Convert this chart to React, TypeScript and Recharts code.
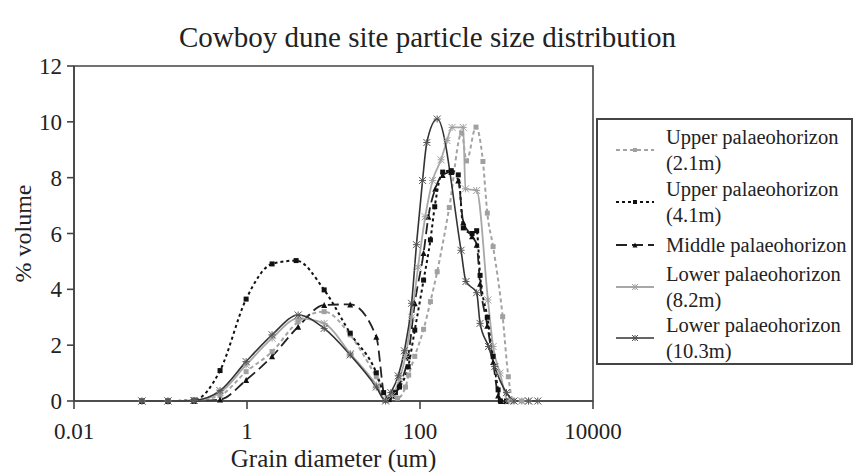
import React from 'react';
import { LineChart, Line, XAxis, YAxis, Legend, ReferenceArea } from 'recharts';

// ---------- data (grain diameter in um, % volume) ----------
const xTicks = [0.01, 1, 100, 10000];
const yTicks = [0, 2, 4, 6, 8, 10, 12];

const upper21m: [number, number][] = [
  [0.061, 0], [0.122, 0], [0.244, 0.02], [0.488, 0.2], [0.977, 1.05], [1.95, 1.77], [3.9, 2.84],
  [7.8, 3.2], [15.6, 2.37], [31.25, 0.87], [44, 0.1], [55, 0.1], [68, 0.5], [74, 0.93], [87, 1.6],
  [110, 2.57], [132, 3.56], [158, 4.63], [218, 6.93], [303, 9.6], [345, 8.6], [444, 9.81], [534, 8.58],
  [600, 6.73], [700, 5.53], [903, 3.02], [1050, 0.87], [1200, 0], [1500, 0],
];

const upper41m: [number, number][] = [
  [0.061, 0], [0.122, 0], [0.244, 0.03], [0.488, 1.09], [0.977, 3.65], [1.95, 4.91], [3.7, 5.03],
  [7.8, 3.98], [15.6, 2.43], [31.25, 1.01], [38, 0.3], [44, 0.05], [52, 0.3], [58, 0.5], [73, 1.23],
  [87, 2.54], [110, 4.33], [132, 5.77], [148, 6.96], [183, 8.2], [230, 8.25], [277, 8.1], [317, 6.2],
  [400, 6.0], [452, 6.1], [495, 4.5], [600, 3.0], [700, 1.6], [800, 0.4], [850, 0], [1000, 0],
];

const middle: [number, number][] = [
  [0.061, 0], [0.122, 0], [0.244, 0], [0.488, 0.05], [0.977, 0.75], [1.95, 1.6], [3.9, 2.66],
  [7.8, 3.44], [15.6, 3.46], [31.25, 2.3], [40, 0.05], [48, 0.2], [58, 0.6], [73, 1.6], [87, 3.5],
  [110, 5.3], [125, 6.6], [150, 7.6], [183, 8.1], [230, 8.2], [277, 7.9], [317, 6.4], [400, 5.9],
  [452, 5.6], [495, 4.2], [600, 2.7], [700, 1.4], [800, 0.2], [870, 0], [1000, 0],
];

const lower82m: [number, number][] = [
  [0.061, 0], [0.122, 0], [0.244, 0.02], [0.488, 0.3], [0.977, 1.29], [1.95, 2.25], [3.9, 2.96],
  [7.8, 2.78], [15.6, 1.7], [31.25, 0.57], [40, 0.05], [48, 0.2], [58, 0.8], [68, 1.6], [80, 3.0],
  [95, 4.8], [115, 6.6], [140, 7.9], [175, 8.64], [205, 9.33], [235, 9.8], [316, 9.8], [335, 7.6],
  [452, 7.54], [610, 3.62], [700, 1.95], [840, 1.0], [1050, 0], [1500, 0], [1800, 0],
];

const lower103m: [number, number][] = [
  [0.061, 0], [0.122, 0], [0.244, 0.02], [0.488, 0.37], [0.977, 1.41], [1.95, 2.37], [3.9, 3.08],
  [7.8, 2.6], [15.6, 1.65], [31.25, 0.5], [40, 0], [46, 0.3], [56, 0.9], [66, 1.8], [80, 3.5],
  [91, 5.6], [107, 7.9], [120, 9.26], [158, 10.1], [298, 5.4], [340, 4.28], [452, 3.88], [495, 2.78],
  [620, 1.95], [730, 1.23], [1000, 0.3], [1220, 0], [1800, 0], [2300, 0],
];

const legendLabels: string[][] = [
  ['Upper palaeohorizon', '(2.1m)'],
  ['Upper palaeohorizon', '(4.1m)'],
  ['Middle palaeohorizon'],
  ['Lower palaeohorizon', '(8.2m)'],
  ['Lower palaeohorizon', '(10.3m)'],
];

// ---------- styling ----------
type Marker = 'square' | 'triangle' | 'star';
interface SeriesCfg {
  key: string;
  data: [number, number][];
  stroke: string;
  dash?: string;
  width: number;
  marker: Marker;
  markerColor: string;
  markerSize: number;
}

const series: SeriesCfg[] = [
  { key: 'u21', data: upper21m, stroke: '#a3a3a3', dash: '4 3', width: 2, marker: 'square', markerColor: '#a0a0a0', markerSize: 5 },
  { key: 'u41', data: upper41m, stroke: '#111111', dash: '3 3', width: 2, marker: 'square', markerColor: '#111111', markerSize: 5 },
  { key: 'mid', data: middle, stroke: '#222222', dash: '11 5', width: 1.8, marker: 'triangle', markerColor: '#111111', markerSize: 6 },
  { key: 'l82', data: lower82m, stroke: '#a8a8a8', width: 1.8, marker: 'star', markerColor: '#a0a0a0', markerSize: 7 },
  { key: 'l103', data: lower103m, stroke: '#333333', width: 1.6, marker: 'star', markerColor: '#555555', markerSize: 7 },
];

const FONT = '"Liberation Serif", "Times New Roman", serif';
const AXIS = '#444444';

const toRows = (pairs: [number, number][]) => pairs.map(([d, v]) => ({ d, v }));

function MarkerShape({ cx, cy, shape, color, size }: { cx: number; cy: number; shape: Marker; color: string; size: number }) {
  const h = size / 2;
  if (shape === 'square') {
    return <rect x={cx - h} y={cy - h} width={size} height={size} fill={color} />;
  }
  if (shape === 'triangle') {
    return <polygon points={`${cx},${cy - h} ${cx + h},${cy + h} ${cx - h},${cy + h}`} fill={color} />;
  }
  return (
    <g stroke={color} strokeWidth={1}>
      <line x1={cx - h} y1={cy - h} x2={cx + h} y2={cy + h} />
      <line x1={cx - h} y1={cy + h} x2={cx + h} y2={cy - h} />
      <line x1={cx} y1={cy - h} x2={cx} y2={cy + h} />
      <line x1={cx - h} y1={cy} x2={cx + h} y2={cy} />
    </g>
  );
}

const makeDot = (s: SeriesCfg) => (props: any) => {
  const { cx, cy, index } = props;
  if (cx == null || cy == null) return <g key={`${s.key}-${index}`} />;
  return (
    <g key={`${s.key}-${index}`}>
      <MarkerShape cx={cx} cy={cy} shape={s.marker} color={s.markerColor} size={s.markerSize} />
    </g>
  );
};

const itemTops = [4, 56, 112, 141, 192];

function LegendBox() {
  return (
    <div
      style={{
        position: 'relative',
        width: 253,
        height: 243,
        border: '2px solid #444',
        background: '#fff',
        fontFamily: FONT,
        fontSize: 20.5,
        color: '#222',
      }}
    >
      {series.map((s, i) => {
        const lines = legendLabels[i];
        const cy = itemTops[i] + (lines.length * 26) / 2;
        return (
          <React.Fragment key={s.key}>
            <svg style={{ position: 'absolute', left: 18, top: cy - 6 }} width={40} height={12}>
              <line x1={0} y1={6} x2={38} y2={6} stroke={s.stroke} strokeWidth={s.width} strokeDasharray={s.dash} />
              <MarkerShape cx={19} cy={6} shape={s.marker} color={s.markerColor} size={s.markerSize - 1} />
            </svg>
            <div style={{ position: 'absolute', left: 68, top: itemTops[i], lineHeight: '26px', whiteSpace: 'nowrap' }}>
              {lines.map((t) => (
                <div key={t}>{t}</div>
              ))}
            </div>
          </React.Fragment>
        );
      })}
    </div>
  );
}

export default function App() {
  return (
    <div style={{ position: 'absolute', left: 0, top: 0, width: 855, height: 472, background: '#fff' }}>
      <div
        style={{
          position: 'absolute',
          left: 0,
          width: 855,
          top: 21,
          textAlign: 'center',
          fontFamily: FONT,
          fontSize: 29,
          color: '#222',
          whiteSpace: 'nowrap',
        }}
      >
        Cowboy dune site particle size distribution
      </div>
      <LineChart width={855} height={472} margin={{ top: 66, right: 262, bottom: 23, left: 0 }}>
        <XAxis
          dataKey="d"
          type="number"
          scale="log"
          domain={[0.01, 10000]}
          ticks={xTicks}
          allowDataOverflow
          height={48}
          tickSize={8}
          tickMargin={14}
          stroke={AXIS}
          strokeWidth={1.6}
          tick={{ fill: '#222', fontSize: 23, fontFamily: FONT }}
          label={{ value: 'Grain diameter (um)', position: 'bottom', offset: 0, style: { fill: '#222', fontSize: 25, fontFamily: FONT } }}
        />
        <YAxis
          type="number"
          domain={[0, 12]}
          ticks={yTicks}
          width={74}
          tickSize={7}
          tickMargin={5}
          stroke={AXIS}
          strokeWidth={1.6}
          tick={{ fill: '#222', fontSize: 23, fontFamily: FONT }}
          label={{
            value: '% volume',
            angle: -90,
            position: 'insideLeft',
            offset: 22,
            style: { fill: '#222', fontSize: 24, fontFamily: FONT, textAnchor: 'middle' },
          }}
        />
        <ReferenceArea x1={0.01} x2={10000} y1={0} y2={12} fill="none" stroke={AXIS} strokeWidth={1.6} ifOverflow="visible" />
        {series.map((s) => (
          <Line
            key={s.key}
            data={toRows(s.data)}
            dataKey="v"
            type="monotone"
            stroke={s.stroke}
            strokeWidth={s.width}
            strokeDasharray={s.dash}
            dot={makeDot(s)}
            activeDot={false}
            isAnimationActive={false}
          />
        ))}
        <Legend
          layout="horizontal"
          verticalAlign="middle"
          align="center"
          wrapperStyle={{ left: 596, top: 118, width: 257 }}
          content={() => <LegendBox />}
        />
      </LineChart>
    </div>
  );
}
